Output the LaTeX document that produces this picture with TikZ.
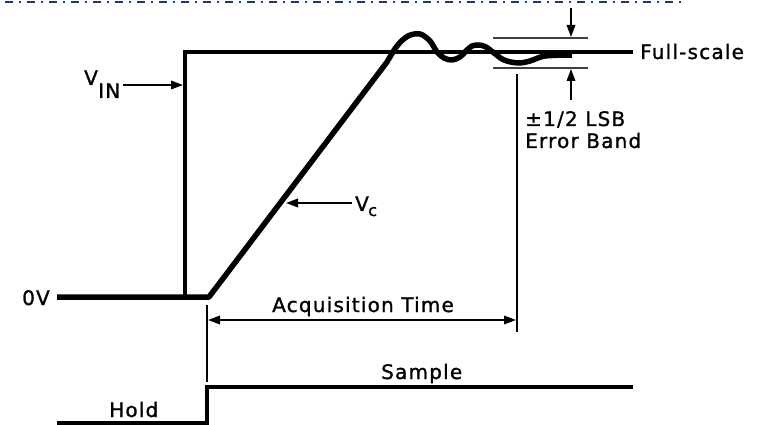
\documentclass[tikz,border=0pt]{standalone}
\usepackage{fontspec}
\setmainfont[LetterSpace=6,FakeBold=1.2]{DejaVu Sans}
\usetikzlibrary{arrows.meta}
\definecolor{navy}{RGB}{31,56,110}
\begin{document}
\begin{tikzpicture}[x=1pt,y=-1pt,
  lbl/.style={inner sep=0pt,anchor=base west,font=\fontsize{20}{22}\selectfont},
  tiparrow/.style={-{Triangle[length=12pt,width=8.5pt]},line width=1.8pt},
  bothtip/.style={{Triangle[length=12pt,width=8.5pt]}-{Triangle[length=12pt,width=8.5pt]},line width=1.8pt},
  marker/.style={line width=1.6pt},
  band/.style={line width=2.2pt,black!75},
  signal/.style={line width=5.5pt,line join=round},
  vin/.style={line width=3.4pt,line join=miter},
  ctrl/.style={line width=3.2pt,line join=miter}]
\useasboundingbox (0,0) rectangle (766,425);
% top dash-dot border
\coordinate (b1) at (5,2);
\coordinate (b2) at (684,2);
\draw[navy,line width=2pt,dash pattern=on 8pt off 6pt on 2pt off 6pt] (b1) -- (b2);

% input step V_IN
\coordinate (s0) at (185,297);
\coordinate (s1) at (185,52);
\coordinate (s2) at (633,52);
\draw[vin] (s0) -- (s1) -- (s2);

% capacitor voltage
\coordinate (z0) at (57,297);
\coordinate (z1) at (209,297);
\draw[signal] (z0) -- (z1) -- plot[smooth,tension=0.55] coordinates {(387,62) (397,46) (408,36) (420,34) (430,41) (437,52) (444,58) (452,60) (460,57) (466,51) (472,46) (479,45) (486,47) (494,53) (504,60) (518,63) (530,61) (545,56) (572,55)};

% labels
\node[lbl] (fs) at (640,59) {Full-scale};
\node[lbl] (zv) at (22,305) {0V};
\node[lbl] (vinV) at (84,85) {V};
\node[lbl] (vinS) at (98,98) {IN};
\node[lbl] (vcV) at (355,211) {V};
\node[lbl,font=\fontsize{16}{18}\selectfont] (vcS) at (368,216) {c};
\node[lbl] (lsb) at (525,126) {±1/2 LSB};
\node[lbl] (eb) at (525,148) {Error Band};
\node[lbl] (acq) at (272,312) {Acquisition Time};
\node[lbl] (smp) at (381,379) {Sample};
\node[lbl] (hld) at (109,417) {Hold};

% V_IN arrow
\coordinate (a1) at (123,85);
\coordinate (a2) at (183,85);
\draw[tiparrow] (a1) -- (a2);
% V_c arrow
\coordinate (c1) at (352,203);
\coordinate (c2) at (286,203);
\draw[tiparrow] (c1) -- (c2);

% error band
\coordinate (e1) at (493,38);
\coordinate (e2) at (588,38);
\coordinate (e3) at (493,68);
\coordinate (e4) at (588,68);
\draw[band] (e1) -- (e2);
\draw[band] (e3) -- (e4);
\coordinate (u1) at (571,8);
\coordinate (u2) at (571,37);
\coordinate (l1) at (571,100);
\coordinate (l2) at (571,69);
\draw[tiparrow] (u1) -- (u2);
\draw[tiparrow] (l1) -- (l2);

% acquisition time
\coordinate (t1) at (207,305);
\coordinate (t2) at (207,382);
\coordinate (r1) at (517,74);
\coordinate (r2) at (517,332);
\draw[marker] (t1) -- (t2);
\draw[marker] (r1) -- (r2);
\coordinate (q1) at (208,320);
\coordinate (q2) at (516,320);
\draw[bothtip] (q1) -- (q2);

% hold / sample control
\coordinate (h0) at (57,423);
\coordinate (h1) at (207,423);
\coordinate (h2) at (207,387);
\coordinate (h3) at (633,387);
\draw[ctrl] (h0) -- (h1) -- (h2) -- (h3);
\end{tikzpicture}
\end{document}
